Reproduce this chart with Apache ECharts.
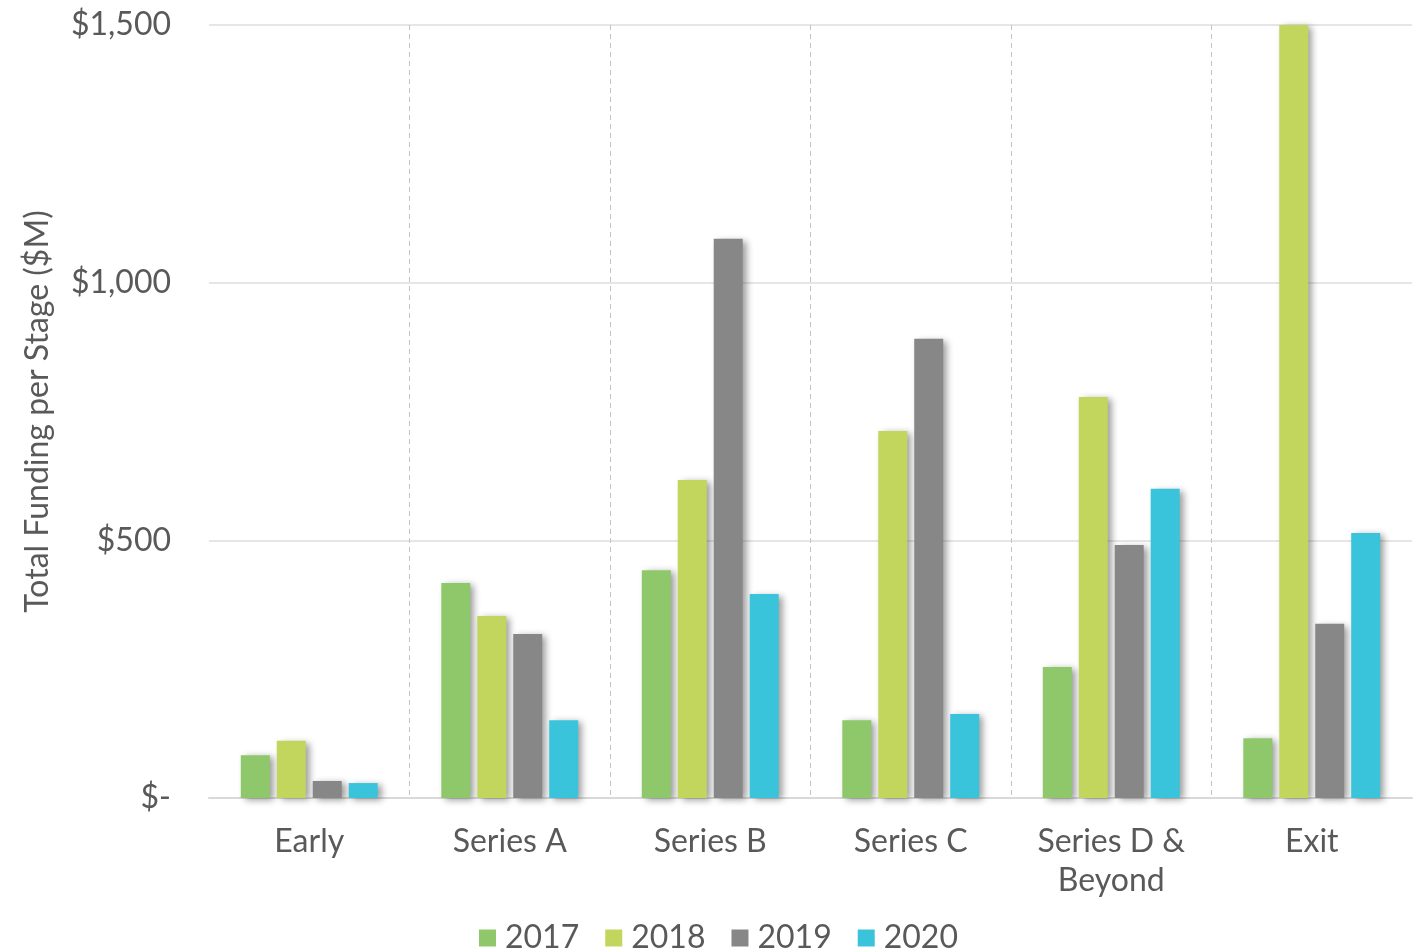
<!DOCTYPE html>
<html>
<head>
<meta charset="UTF-8">
<title>Total Funding per Stage</title>
<script src="https://cdn.jsdelivr.net/npm/echarts@6/dist/echarts.min.js"></script>
<style>
  html, body { margin: 0; padding: 0; background: #fff; }
  #main { width: 1422px; height: 952px; }
</style>
</head>
<body>
<div id="main"></div>
<script>
// 数据
var stages = ['Early', 'Series A', 'Series B', 'Series C', 'Series D &\nBeyond', 'Exit'];
var years = ['2017', '2018', '2019', '2020'];
var y2017 = [83, 417, 442, 151, 254, 116];
var y2018 = [111, 353, 617, 712, 778, 1500];
var y2019 = [33, 318, 1085, 891, 491, 338];
var y2020 = [29, 151, 396, 163, 600, 514];
var colors = ['#8fc86a', '#c2d65e', '#878787', '#3ac4dc'];

var chart = echarts.init(document.getElementById('main'));

var allData = [y2017, y2018, y2019, y2020];
var series = years.map(function (y, i) {
    return {
        name: y,
        type: 'bar',
        data: allData[i],
        barWidth: 29,
        barGap: '24%',
        itemStyle: {
            color: colors[i],
            shadowColor: 'rgba(0,0,0,0.4)',
            shadowBlur: 7,
            shadowOffsetX: 4,
            shadowOffsetY: 2
        }
    };
});

var option = {
    animation: false,
    textStyle: { fontFamily: 'Lato' },
    grid: { left: 209, right: 10, top: 25, bottom: 154 },
    legend: {
        top: 922,
        left: 479,
        itemWidth: 17,
        itemHeight: 17,
        itemGap: 26,
        icon: 'rect',
        padding: 0,
        textStyle: { fontSize: 32, color: '#595959', fontFamily: 'Lato', padding: [0, 0, 0, 4] },
        data: years
    },
    xAxis: {
        type: 'category',
        data: stages,
        axisLine: { lineStyle: { color: '#d9d9d9', width: 2 } },
        axisTick: { show: false },
        splitLine: {
            show: true,
            showMinLine: false,
            showMaxLine: false,
            lineStyle: { type: [5, 4], color: '#c4c4c4', width: 1 }
        },
        axisLabel: {
            fontSize: 32,
            color: '#595959',
            margin: 24,
            lineHeight: 39,
            interval: 0
        }
    },
    yAxis: {
        type: 'value',
        min: 0,
        max: 1500,
        interval: 500,
        name: 'Total Funding per Stage ($M)',
        nameLocation: 'middle',
        nameGap: 155,
        nameTextStyle: { fontSize: 32, color: '#595959' },
        axisLine: { show: false },
        axisTick: { show: false },
        splitLine: { lineStyle: { color: '#e6e6e6', width: 2 } },
        axisLabel: {
            fontSize: 32,
            color: '#595959',
            margin: 38,
            formatter: function (v) {
                return v === 0 ? '$-' : '$' + v.toLocaleString('en-US');
            }
        }
    },
    series: series
};

chart.setOption(option);
</script>
</body>
</html>
